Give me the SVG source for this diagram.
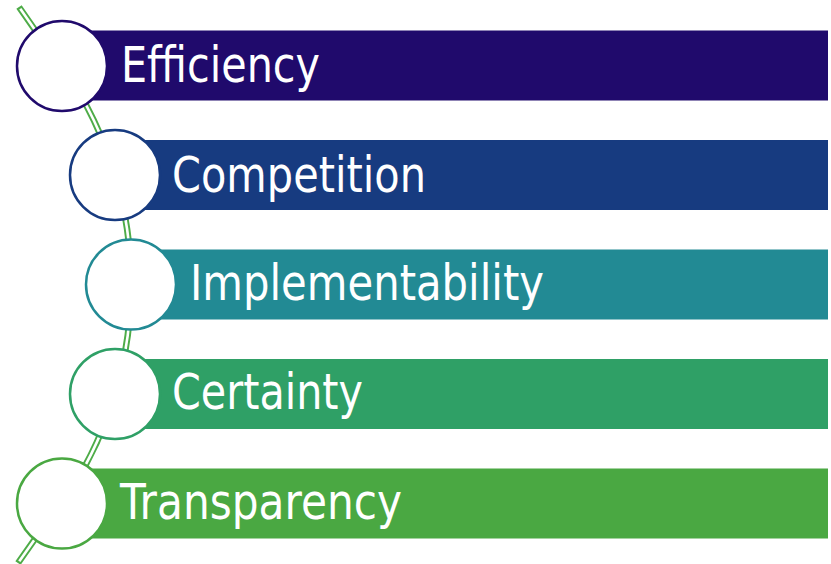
<svg xmlns="http://www.w3.org/2000/svg" width="831" height="564" viewBox="0 0 831 564">
<style>
.lbl{font-family:"DejaVu Sans","Noto Sans",sans-serif;font-size:49px;fill:#ffffff}
.dot{fill:#ffffff;stroke-width:2.5}
</style>
<rect width="831" height="564" fill="#ffffff"/>
<g id="connectors">
<path d="M19,7 L42,40 A380,380 0 0 1 42,529 L18,563" fill="none" stroke="#4eac48" stroke-width="6.5"/>
<path d="M20.3,8.8 L42,40 A380,380 0 0 1 42,529 L19.3,561.2" fill="none" stroke="#ffffff" stroke-width="2.6"/>
</g>
<g id="n1">
<rect x="62" y="30.5" width="766" height="70" fill="#200a6c"/>
<circle class="dot" cx="62" cy="66" r="45" stroke="#200a6c"/>
<text class="lbl" x="121" y="82" textLength="199" lengthAdjust="spacingAndGlyphs">Efficiency</text>
</g>
<g id="n2">
<rect x="115" y="140" width="713" height="70" fill="#173b80"/>
<circle class="dot" cx="115" cy="175" r="45" stroke="#173b80"/>
<text class="lbl" x="172" y="192" textLength="254" lengthAdjust="spacingAndGlyphs">Competition</text>
</g>
<g id="n3">
<rect x="131" y="249.5" width="697" height="70" fill="#228a94"/>
<circle class="dot" cx="131" cy="284.5" r="45" stroke="#228a94"/>
<text class="lbl" x="190" y="300" textLength="354" lengthAdjust="spacingAndGlyphs">Implementability</text>
</g>
<g id="n4">
<rect x="115" y="359" width="713" height="70" fill="#2fa066"/>
<circle class="dot" cx="115" cy="394" r="45" stroke="#2fa066"/>
<text class="lbl" x="172" y="409" textLength="191" lengthAdjust="spacingAndGlyphs">Certainty</text>
</g>
<g id="n5">
<rect x="62" y="468.5" width="766" height="70" fill="#4aa842"/>
<circle class="dot" cx="62" cy="503.5" r="45" stroke="#4aa842"/>
<text class="lbl" x="120" y="519" textLength="282" lengthAdjust="spacingAndGlyphs">Transparency</text>
</g>
</svg>
